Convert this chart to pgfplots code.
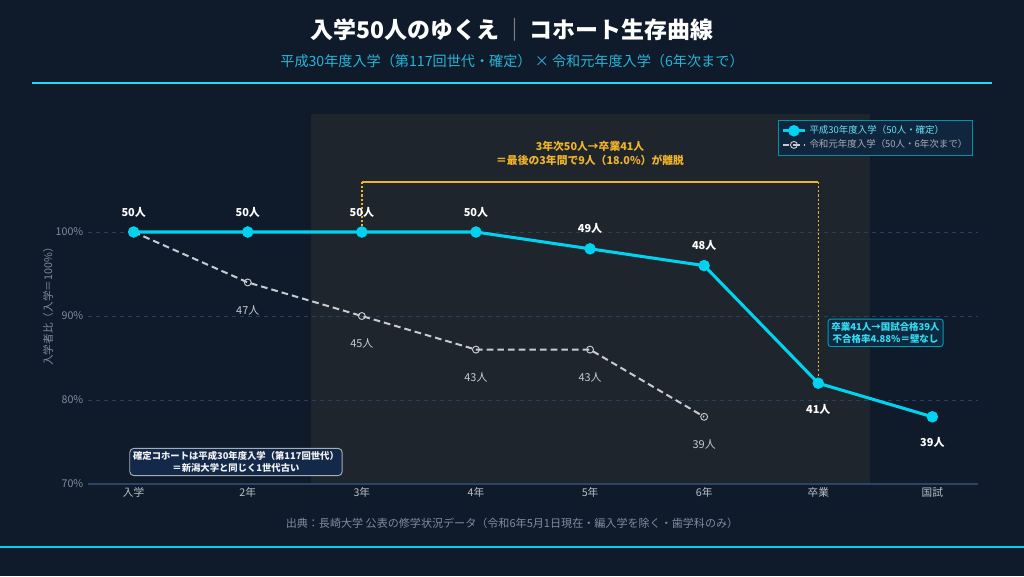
\documentclass[border=0pt]{standalone}
\usepackage{fontspec}
\setmainfont{Noto Sans CJK JP}
\usepackage{pgfplots}
\pgfplotsset{compat=1.18}
\usepackage{pgfplotstable}
\definecolor{bg}{HTML}{0F1B2A}
\definecolor{band}{HTML}{1E252C}
\definecolor{cy}{HTML}{00D2F0}
\definecolor{cysub}{HTML}{27B4D8}
\definecolor{gr}{HTML}{C6CBD2}
\definecolor{ticky}{HTML}{7F8CA0}
\definecolor{tickx}{HTML}{B9C0CA}
\definecolor{gridc}{HTML}{27405F}
\definecolor{axc}{HTML}{2C4566}
\definecolor{org}{HTML}{F0B429}
\definecolor{boxfill}{HTML}{0F2A40}
\definecolor{boxfillL}{HTML}{13294A}
\definecolor{legfill}{HTML}{10263F}

\pgfplotstableread{
x y n
0 100 50
1 100 50
2 100 50
3 100 50
4 98 49
5 96 48
6 82 41
7 78 39
}\cohortA

\pgfplotstableread{
x y n
0 100 50
1 94 47
2 90 45
3 86 43
4 86 43
5 78 39
}\cohortB

\pgfplotstableread{
x y n
0 100 50
1 100 50
2 100 50
3 100 50
4 98 49
5 96 48
}\labAup

\pgfplotstableread{
x y n
6 82 41
7 78 39
}\labAdown

\pgfplotstableread{
x y n
1 94 47
2 90 45
3 86 43
4 86 43
5 78 39
}\labB

\begin{document}
\begin{tikzpicture}
\fill[bg] (0,0) rectangle (768pt,-432pt);
\useasboundingbox (0,0) rectangle (768pt,-432pt);

\node[font=\bfseries\fontsize{17.2}{20}\selectfont, text=white] at (384pt,-22.5pt) {入学50人のゆくえ{\color{gray}\,｜\,}コホート生存曲線};
\node[font=\fontsize{10.6}{12}\selectfont, text=cysub] at (384pt,-45.75pt) {平成30年度入学（第117回世代・確定）\ ×\ 令和元年度入学（6年次まで）};
\draw[cy!85!white, line width=1.1pt] (24pt,-62.25pt) -- (744pt,-62.25pt);
\node[font=\fontsize{8.3}{10}\selectfont, text=ticky] at (384pt,-392.25pt) {出典：長崎大学 公表の修学状況データ（令和6年5月1日現在・編入学を除く・歯学科のみ）};
\draw[cy, line width=2.2pt] (0pt,-410.25pt) -- (768pt,-410.25pt);
\node[font=\fontsize{8}{9}\selectfont, text=ticky, rotate=90] at (36pt,-228pt) {入学者比（入学＝100\%）};

\begin{axis}[
  at={(66pt,-363pt)}, anchor=south west,
  scale only axis, width=667.5pt, height=277.2pt,
  xmin=-0.4, xmax=7.4, ymin=70, ymax=114,
  xtick={0,1,2,3,4,5,6,7},
  xticklabels={入学,2年,3年,4年,5年,6年,卒業,国試},
  ytick={70,80,90,100},
  yticklabels={70\%,80\%,90\%,100\%},
  major tick length=0pt,
  axis line style={draw=none},
  x tick label style={font=\fontsize{8}{10}\selectfont, text=tickx, yshift=1pt},
  y tick label style={font=\fontsize{8}{10}\selectfont, text=ticky},
  legend style={at={(1,1)}, anchor=north east, xshift=-3.75pt, yshift=-4.2pt,
    fill=legfill, draw=cy!70!black, line width=0.6pt, font=\fontsize{7.1}{8.5}\selectfont,
    inner sep=2pt, row sep=-1pt},
  legend cell align=left,
  clip=false,
]
\fill[band] (axis cs:1.55,70) rectangle (axis cs:6.45,114);
\draw[gridc, dash pattern=on 3pt off 3pt, line width=0.6pt] (axis cs:-0.4,80) -- (axis cs:7.4,80);
\draw[gridc, dash pattern=on 3pt off 3pt, line width=0.6pt] (axis cs:-0.4,90) -- (axis cs:7.4,90);
\draw[gridc, dash pattern=on 3pt off 3pt, line width=0.6pt] (axis cs:-0.4,100) -- (axis cs:7.4,100);
\draw[axc, line width=0.8pt] (axis cs:-0.4,70) -- (axis cs:7.4,70);

% bracket
\draw[org, line width=1.4pt] (axis cs:2,106) -- (axis cs:6,106);
\draw[org, line width=1.1pt, dash pattern=on 1.6pt off 1.6pt] (axis cs:2,106) -- (axis cs:2,100);
\draw[org, line width=1.1pt, dash pattern=on 1.6pt off 1.6pt] (axis cs:6,106) -- (axis cs:6,82);
\node[font=\bfseries\fontsize{8.1}{10.5}\selectfont, text=org, align=center] at (axis cs:4,109.4)
  {3年次50人→卒業41人\\＝最後の3年間で9人（18.0\%）が離脱};

\addplot[cy, line width=2.3pt, mark=*, mark size=3.1pt, mark options={fill=cy, draw=cy, solid}]
  table[x=x,y=y] {\cohortA};
\addlegendentry{\textcolor{cy!60!white}{平成30年度入学（50人・確定）}}

\addplot[gr, line width=1.5pt, dash pattern=on 5pt off 3pt, mark=o, mark size=2.6pt,
  mark options={solid, fill=bg, draw=gr, line width=0.7pt}]
  table[x=x,y=y] {\cohortB};
\addlegendentry{\textcolor{gr!85!black}{令和元年度入学（50人・6年次まで）}}

% first cyan point drawn on top of the grey start
\addplot[forget plot, only marks, mark=*, mark size=3.1pt, mark options={fill=cy, draw=cy}]
  coordinates {(0,100)};

% labels
\addplot[forget plot, only marks, mark=none,
  point meta=explicit symbolic,
  nodes near coords={{\pgfplotspointmeta}人},
  every node near coord/.append style={font=\bfseries\fontsize{8.2}{10}\selectfont, text=white, anchor=south, yshift=10pt, inner sep=1pt}]
  table[x=x,y=y,meta=n] {\labAup};
\addplot[forget plot, only marks, mark=none,
  point meta=explicit symbolic,
  nodes near coords={{\pgfplotspointmeta}人},
  every node near coord/.append style={font=\bfseries\fontsize{8.2}{10}\selectfont, text=white, anchor=north, yshift=-14.5pt, inner sep=1pt}]
  table[x=x,y=y,meta=n] {\labAdown};
\addplot[forget plot, only marks, mark=none,
  point meta=explicit symbolic,
  nodes near coords={{\pgfplotspointmeta}人},
  every node near coord/.append style={font=\fontsize{8.2}{10}\selectfont, text=gr, anchor=north, yshift=-16pt, inner sep=1pt}]
  table[x=x,y=y,meta=n] {\labB};

\node[font=\bfseries\fontsize{7.1}{8.8}\selectfont, text=cy!80!white, align=center,
  fill=boxfill, draw=cy!75!black, line width=0.7pt, rounded corners=2pt, inner sep=2.5pt]
  at (axis cs:6.59,88) {卒業41人→国試合格39人\\不合格率4.88\%＝壁なし};

\node[font=\bfseries\fontsize{7}{8.6}\selectfont, text=white!90!gray, align=center,
  fill=boxfillL, draw=gr!85!black, line width=0.7pt, rounded corners=3pt, inner sep=2.5pt]
  at (axis cs:0.897,72.62) {確定コホートは平成30年度入学（第117回世代）\\＝新潟大学と同じく1世代古い};
\end{axis}
\end{tikzpicture}
\end{document}
